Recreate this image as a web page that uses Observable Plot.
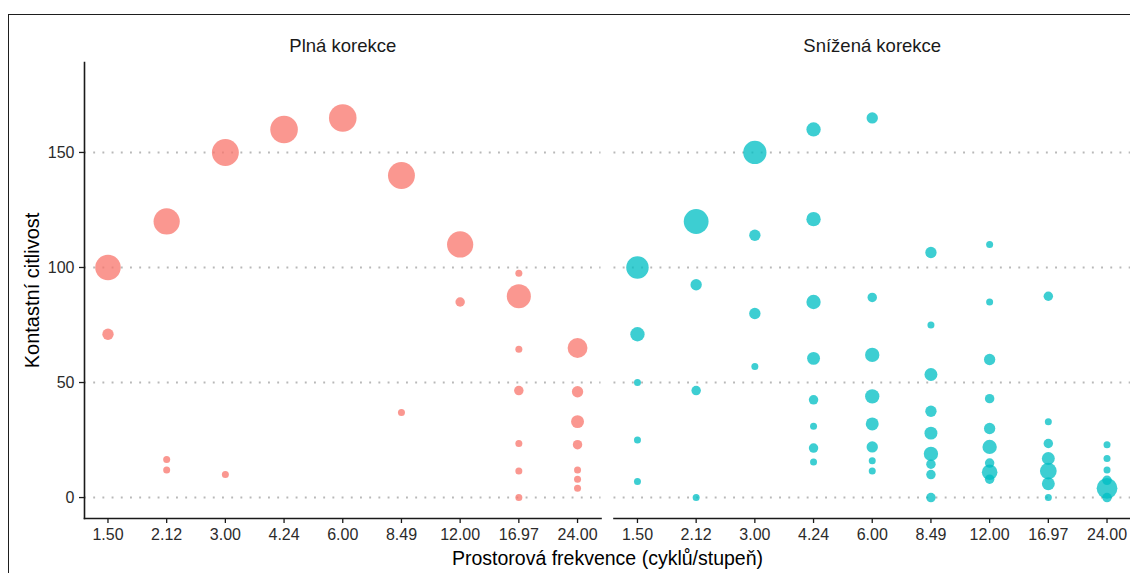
<!DOCTYPE html>
<html>
<head>
<meta charset="utf-8">
<script src="https://cdn.jsdelivr.net/npm/d3@7"></script>
<script src="https://cdn.jsdelivr.net/npm/@observablehq/plot@0.6"></script>
<style>
  html, body { margin: 0; padding: 0; background: #fff; }
  #wrap { position: relative; width: 1130px; height: 573px; overflow: hidden; }
  #wrap svg { position: absolute; left: 0; top: 0; }
  #border { position: absolute; left: 8px; top: 14px; right: -10px; bottom: -10px;
            border-top: 1.5px solid #1e1e1e; border-left: 1.5px solid #1e1e1e; pointer-events: none; }
</style>
</head>
<body>
<div id="wrap"><div id="border"></div></div>
<script>
// Categories
const freqs = ["1.50", "2.12", "3.00", "4.24", "6.00", "8.49", "12.00", "16.97", "24.00"];
const panels = ["Plná korekce", "Snížená korekce"];
const yTicks = [0, 50, 100, 150];

// Plná korekce (full correction): frequency, contrast sensitivity, count
const fullFreq  = ["1.50","1.50","2.12","2.12","2.12","3.00","3.00","4.24","6.00","8.49","8.49","12.00","12.00",
                   "16.97","16.97","16.97","16.97","16.97","16.97","16.97",
                   "24.00","24.00","24.00","24.00","24.00","24.00","24.00"];
const fullSens  = [100, 71, 120, 16.5, 12, 150, 10, 160, 165, 140, 37, 110, 85,
                   97.5, 87.5, 64.5, 46.5, 23.5, 11.5, 0,
                   65, 46, 33, 23, 12, 8, 4];
const fullCount = [17, 3, 18, 1, 1, 19, 1, 20, 20, 19, 1, 18, 2,
                   1, 15, 1, 2, 1, 1, 1,
                   10, 3, 4, 2, 1, 1, 1];

// Snížená korekce (reduced correction)
const redFreq  = ["1.50","1.50","1.50","1.50","1.50",
                  "2.12","2.12","2.12","2.12",
                  "3.00","3.00","3.00","3.00",
                  "4.24","4.24","4.24","4.24","4.24","4.24","4.24","4.24",
                  "6.00","6.00","6.00","6.00","6.00","6.00","6.00","6.00",
                  "8.49","8.49","8.49","8.49","8.49","8.49","8.49","8.49","8.49",
                  "12.00","12.00","12.00","12.00","12.00","12.00","12.00","12.00","12.00",
                  "16.97","16.97","16.97","16.97","16.97","16.97","16.97",
                  "24.00","24.00","24.00","24.00","24.00","24.00"];
const redSens  = [100, 71, 50, 25, 7,
                  120, 92.5, 46.5, 0,
                  150, 114, 80, 57,
                  160, 121, 85, 60.5, 42.5, 31, 21.5, 15.5,
                  165, 87, 62, 44, 32, 22, 16, 11.5,
                  106.5, 75, 53.5, 37.5, 28, 19, 14.5, 10, 0,
                  110, 85, 60, 43, 30, 22, 15, 11, 8,
                  87.5, 33, 23.5, 17, 11.5, 6, 0,
                  23, 17, 12, 7.5, 4, 0];
const redCount = [13, 5, 1, 1, 1,
                  16, 3, 2, 1,
                  14, 3, 3, 1,
                  5, 5, 5, 4, 2, 1, 2, 1,
                  3, 2, 5, 5, 4, 3, 1, 1,
                  3, 1, 4, 3, 4, 5, 2, 2, 2,
                  1, 1, 3, 2, 3, 5, 2, 6, 2,
                  2, 1, 2, 4, 7, 4, 1,
                  1, 1, 1, 2, 11, 2];

const colors = ["#F8766D", "#00BFC4"];

const rows = [];
fullFreq.forEach((f, i) => rows.push({panel: panels[0], freq: f, sens: fullSens[i], n: fullCount[i]}));
redFreq.forEach((f, i) => rows.push({panel: panels[1], freq: f, sens: redSens[i], n: redCount[i]}));

const font = "'Liberation Sans', Arial, Helvetica, sans-serif";

const chart = Plot.plot({
  width: 1130,
  height: 573,
  marginLeft: 84,
  marginRight: 0,
  marginTop: 62,
  marginBottom: 55,
  style: {fontFamily: font, background: "transparent", overflow: "visible"},
  fx: {domain: panels, paddingInner: 0.0245, paddingOuter: 0, round: false, label: null},
  x: {type: "point", domain: freqs, padding: 0.4, round: false, label: null},
  y: {domain: [-9.1, 189.1], label: null},
  r: {type: "sqrt", domain: [1, 20], range: [3.5, 13.8]},
  color: {domain: panels, range: colors},
  marks: [
    Plot.ruleY(yTicks, {stroke: "#b8b8b8", strokeWidth: 1.9, strokeDasharray: "1.9 7.3"}),
    Plot.dot(rows, {fx: "panel", x: "freq", y: "sens", r: "n", fill: "panel", fillOpacity: 0.76, stroke: null}),
    Plot.frame({anchor: "bottom", stroke: "#1a1a1a", strokeWidth: 1.6}),
    Plot.frame({anchor: "left", fx: panels[0], stroke: "#1a1a1a", strokeWidth: 1.6}),
    Plot.axisX({tickSize: 5, tickPadding: 5, fontSize: 16, stroke: "#1a1a1a", strokeWidth: 1.3, color: "#2b2b2b", label: null}),
    Plot.axisY({ticks: yTicks, tickSize: 5, tickPadding: 5, fontSize: 16, stroke: "#1a1a1a", strokeWidth: 1.3, color: "#2b2b2b", label: null}),
    Plot.axisFx({anchor: "top", tickSize: 0, tickPadding: 11, fontSize: 18.5, color: "#1a1a1a", label: null}),
    Plot.text(["Prostorová frekvence (cyklů/stupeň)"], {facet: "super", frameAnchor: "bottom", dy: 40, lineAnchor: "middle", fontSize: 19.5, fill: "#000"}),
    Plot.text(["Kontastní citlivost"], {facet: "super", frameAnchor: "left", dx: -52, rotate: -90, textAnchor: "middle", lineAnchor: "middle", fontSize: 20, fill: "#000"})
  ]
});

document.getElementById("wrap").prepend(chart);
</script>
</body>
</html>
